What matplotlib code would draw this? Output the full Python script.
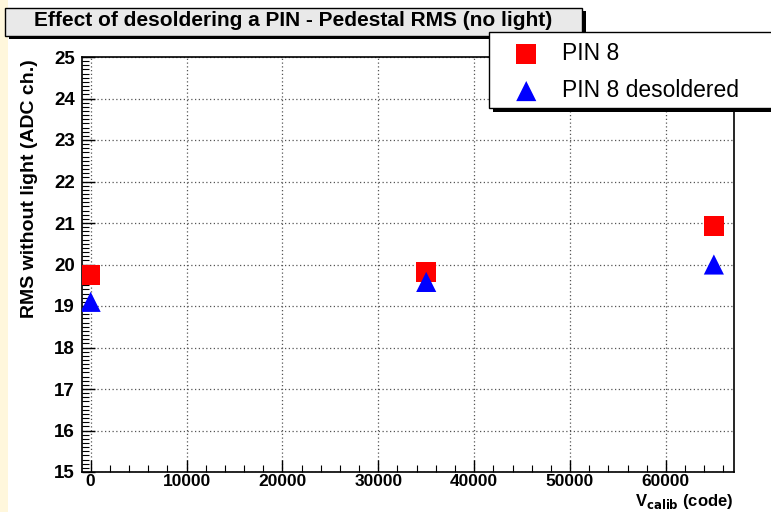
import numpy as np
import matplotlib.pyplot as plt
from matplotlib.patches import Rectangle
from matplotlib.ticker import MultipleLocator

# data
vcalib = [0, 35000, 65000]
rms_pin8 = [19.75, 19.82, 20.92]
rms_pin8_desoldered = [19.1, 19.58, 20.0]

title = "Effect of desoldering a PIN - Pedestal RMS (no light)"
ylabel = "RMS without light (ADC ch.)"
xlabel = r"V$_{\mathbf{calib}}$ (code)"
labels = ["PIN 8", "PIN 8 desoldered"]

W, H = 771, 512
plt.rcParams['font.family'] = ['Liberation Sans', 'DejaVu Sans']

fig = plt.figure(figsize=(W / 100, H / 100), dpi=100)
fig.patch.set_facecolor('white')

# yellowish strip on the left
fig.patches.append(Rectangle((0, 0), 8 / W, 1, transform=fig.transFigure,
                             facecolor='#fff7dc', edgecolor='none', zorder=0))

ax = fig.add_axes([82 / W, 1 - 472 / H, (734 - 82) / W, (472 - 57) / H])

ax.scatter(vcalib, rms_pin8, marker='s', s=200, color='#ff0000', zorder=5,
           label=labels[0], edgecolors='none')
ax.scatter(vcalib, rms_pin8_desoldered, marker='^', s=210, color='#0000ff', zorder=6,
           label=labels[1], edgecolors='none')

ax.set_xlim(-900, 67100)
ax.set_ylim(15, 25)
ax.xaxis.set_major_locator(MultipleLocator(10000))
ax.xaxis.set_minor_locator(MultipleLocator(2000))
ax.yaxis.set_major_locator(MultipleLocator(1))
ax.yaxis.set_minor_locator(MultipleLocator(0.1))
ax.tick_params(which='both', direction='in', top=False, right=False)
ax.tick_params(which='major', length=9, width=1, labelsize=13.5)
ax.tick_params(axis='x', labelsize=12.5, pad=1.5)
ax.tick_params(which='minor', length=5, width=0.8)
ax.tick_params(axis='y', pad=5)
for lab in ax.get_xticklabels() + ax.get_yticklabels():
    lab.set_fontweight('bold')
ax.grid(True, which='major', linestyle=(0, (1, 2)), color='#555555', linewidth=0.9)
for sp in ax.spines.values():
    sp.set_linewidth(1.2)
    sp.set_color('black')

fig.text(30 / W, 1 - 59 / H, ylabel, rotation=90, ha='center', va='top',
         fontsize=14, fontweight='bold')
fig.text(734 / W, 1 / H, xlabel, ha='right', va='bottom',
         fontsize=12, fontweight='bold')

# title box with shadow
fig.patches.append(Rectangle((9 / W, 1 - 39 / H), 577 / W, 28 / H, transform=fig.transFigure,
                             facecolor='black', edgecolor='none', zorder=10))
fig.patches.append(Rectangle((5 / W, 1 - 36 / H), 577 / W, 28 / H, transform=fig.transFigure,
                             facecolor='#e9e9e9', edgecolor='black', linewidth=1, zorder=11))
fig.text(293 / W, 1 - 21 / H, title, ha='center', va='center', fontsize=15,
         fontweight='bold', zorder=12)

# legend box with shadow
fig.patches.append(Rectangle((493 / W, 1 - 112 / H), 290 / W, 76 / H, transform=fig.transFigure,
                             facecolor='black', edgecolor='none', zorder=13))
fig.patches.append(Rectangle((489 / W, 1 - 108 / H), 290 / W, 76 / H, transform=fig.transFigure,
                             facecolor='white', edgecolor='black', linewidth=1, zorder=14))
leg = fig.legend(loc='upper left', bbox_to_anchor=(485 / W, 1 - 24 / H), frameon=False,
                 fontsize=16.5, labelspacing=0.6, handletextpad=0.55, markerscale=1.0,
                 borderpad=0.3)
leg.set_zorder(15)

fig.savefig('out.png', dpi=100)
